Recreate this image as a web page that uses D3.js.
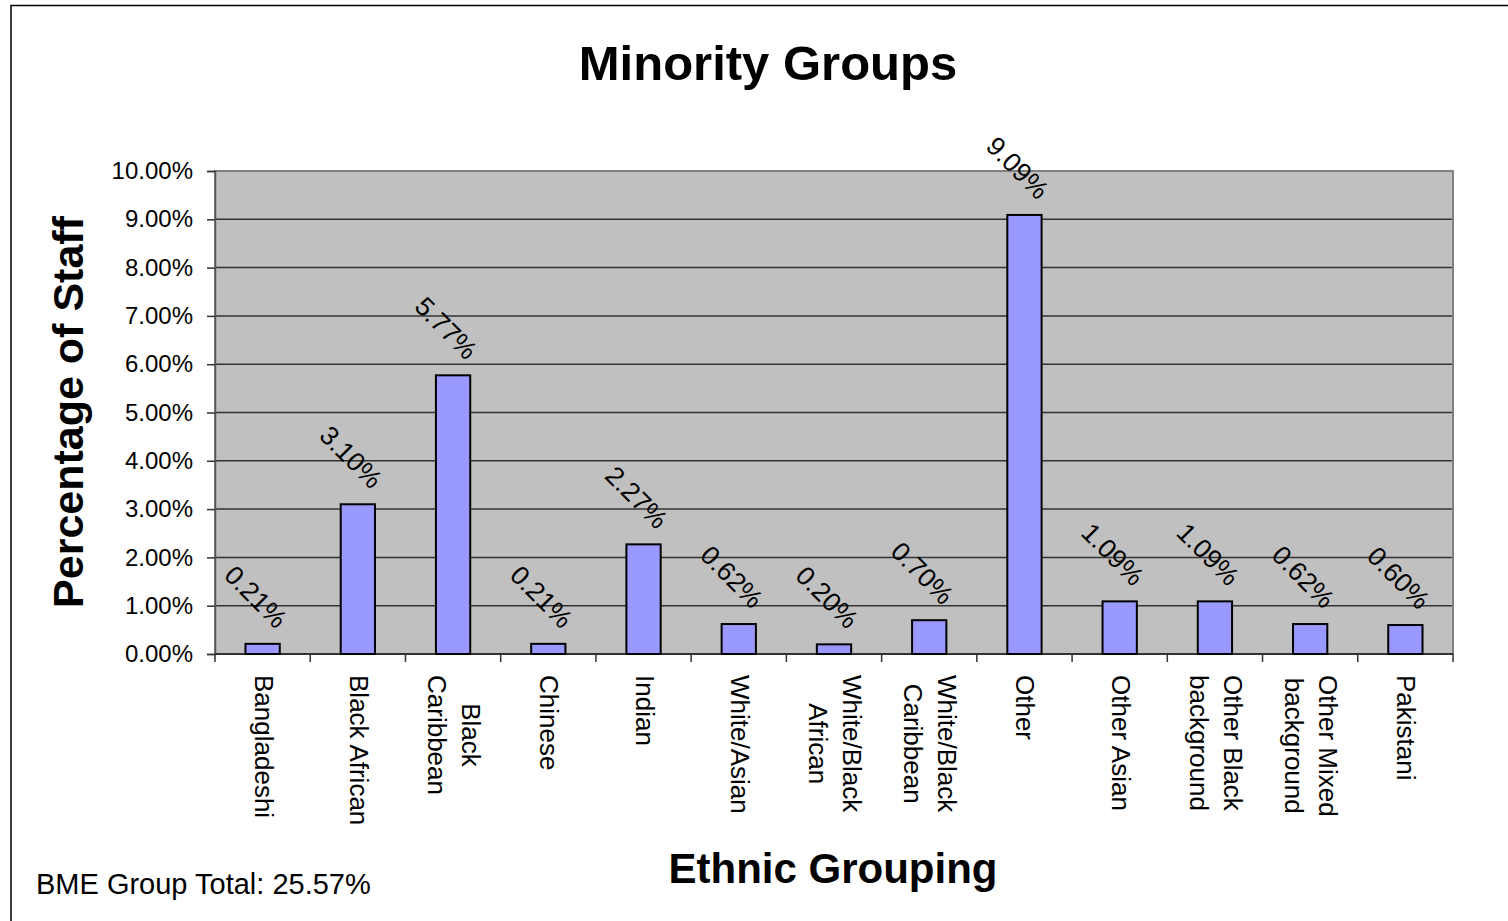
<!DOCTYPE html>
<html>
<head>
<meta charset="utf-8">
<script src="https://cdn.jsdelivr.net/npm/d3@7"></script>
<style>
  body { margin: 0; background: #fff; }
  svg { display: block; font-family: "Liberation Sans", Arial, sans-serif; }
</style>
</head>
<body>
<svg id="chart"></svg>
<script>
// chart data
const categories = [
  ['Bangladeshi'], ['Black African'], ['Black', 'Caribbean'], ['Chinese'], ['Indian'],
  ['White/Asian'], ['White/Black', 'African'], ['White/Black', 'Caribbean'], ['Other'],
  ['Other Asian'], ['Other Black', 'background'], ['Other Mixed', 'background'], ['Pakistani']
];
const values = [0.21, 3.10, 5.77, 0.21, 2.27, 0.62, 0.20, 0.70, 9.09, 1.09, 1.09, 0.62, 0.60];
const yTicks = [0, 1, 2, 3, 4, 5, 6, 7, 8, 9, 10];
const totalLabel = 'BME Group Total: 25.57%';

const width = 1508, height = 921;
const plot = { left: 215, right: 1453, top: 171, bottom: 654 };

const svg = d3.select('#chart').attr('width', width).attr('height', height);

// outer chart border
svg.append('rect')
    .attr('x', 11).attr('y', 5.5)
    .attr('width', width + 20).attr('height', height + 20)
    .attr('fill', '#fff').attr('stroke', '#000').attr('stroke-width', 1.5);

const x = d3.scaleBand()
    .domain(d3.range(categories.length))
    .range([plot.left, plot.right])
    .padding(0);

const y = d3.scaleLinear()
    .domain([0, 10])
    .range([plot.bottom, plot.top]);

// plot background
svg.append('rect')
    .attr('x', plot.left).attr('y', plot.top)
    .attr('width', plot.right - plot.left).attr('height', plot.bottom - plot.top)
    .attr('fill', '#c0c0c0');

// gridlines
svg.append('g')
    .selectAll('line')
    .data(yTicks.filter(d => d > 0 && d < 10))
    .join('line')
      .attr('x1', plot.left).attr('x2', plot.right)
      .attr('y1', d => y(d)).attr('y2', d => y(d))
      .attr('stroke', '#333').attr('stroke-width', 1.5);

// plot border
svg.append('rect')
    .attr('x', plot.left).attr('y', plot.top)
    .attr('width', plot.right - plot.left).attr('height', plot.bottom - plot.top)
    .attr('fill', 'none').attr('stroke', '#808080').attr('stroke-width', 2);

// y axis
const yAxis = svg.append('g')
    .attr('transform', `translate(${plot.left},0)`)
    .call(d3.axisLeft(y).tickValues(yTicks).tickSize(8).tickPadding(14)
      .tickFormat(d => d.toFixed(2) + '%'));
yAxis.select('.domain').attr('stroke', '#555').attr('stroke-width', 1.5);
yAxis.selectAll('.tick line').attr('stroke', '#333').attr('stroke-width', 1.5);
yAxis.selectAll('.tick text')
    .attr('font-size', 24).attr('fill', '#000')
    .attr('font-family', '"Liberation Sans", Arial, sans-serif');

// x axis line and ticks at band edges
svg.append('line')
    .attr('x1', plot.left).attr('x2', plot.right)
    .attr('y1', plot.bottom).attr('y2', plot.bottom)
    .attr('stroke', '#333').attr('stroke-width', 2);
svg.append('g')
    .selectAll('line')
    .data(d3.range(categories.length + 1))
    .join('line')
      .attr('x1', d => plot.left + d * x.step()).attr('x2', d => plot.left + d * x.step())
      .attr('y1', plot.bottom).attr('y2', plot.bottom + 8)
      .attr('stroke', '#333').attr('stroke-width', 1.5);

// bars
const barW = x.bandwidth() * 0.36;
svg.append('g')
    .selectAll('rect')
    .data(values)
    .join('rect')
      .attr('x', (d, i) => x(i) + (x.bandwidth() - barW) / 2)
      .attr('y', d => y(d))
      .attr('width', barW)
      .attr('height', d => y(0) - y(d))
      .attr('fill', '#9999ff')
      .attr('stroke', '#000').attr('stroke-width', 2);

// value labels
svg.append('g')
    .selectAll('text')
    .data(values)
    .join('text')
      .attr('transform', (d, i) =>
        `translate(${x(i) + x.bandwidth() / 2 - 7},${y(d) - 47}) rotate(45)`)
      .attr('text-anchor', 'middle')
      .attr('dominant-baseline', 'central')
      .attr('font-size', 26.5)
      .text(d => d.toFixed(2) + '%');

// category labels, rotated, lines centered against the longest one
const catG = svg.append('g');
categories.forEach((lines, i) => {
  const t = catG.append('text')
      .attr('font-size', 26)
      .attr('text-anchor', 'middle')
      .attr('dominant-baseline', 'central');
  const lineH = 34;
  lines.forEach((s, j) => {
    t.append('tspan').attr('x', 0).attr('y', (j - (lines.length - 1) / 2) * lineH).text(s);
  });
  const maxW = d3.max(t.selectAll('tspan').nodes(), n => n.getComputedTextLength());
  t.attr('transform', `translate(${x(i) + x.bandwidth() / 2 + 1},${675 + maxW / 2}) rotate(90)`);
});

// titles
svg.append('text')
    .attr('x', 768).attr('y', 80)
    .attr('text-anchor', 'middle')
    .attr('font-size', 49).attr('font-weight', 'bold')
    .text('Minority Groups');

svg.append('text')
    .attr('transform', 'translate(83,412) rotate(-90)')
    .attr('text-anchor', 'middle')
    .attr('font-size', 43).attr('font-weight', 'bold')
    .text('Percentage of Staff');

svg.append('text')
    .attr('x', 833).attr('y', 883)
    .attr('text-anchor', 'middle')
    .attr('font-size', 42).attr('font-weight', 'bold')
    .text('Ethnic Grouping');

svg.append('text')
    .attr('x', 36).attr('y', 894)
    .attr('font-size', 29)
    .text(totalLabel);
</script>
</body>
</html>
